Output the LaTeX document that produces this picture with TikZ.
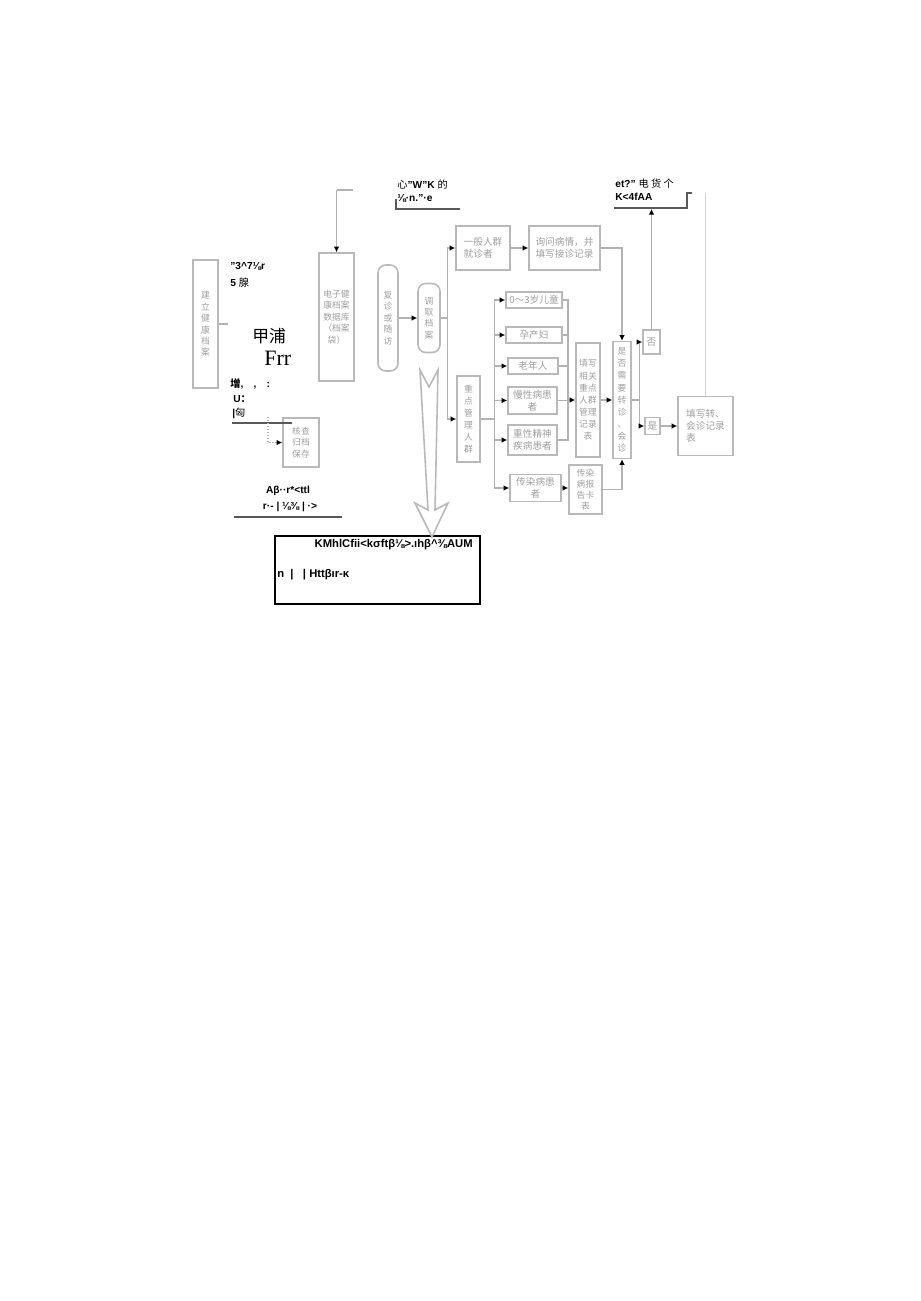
\documentclass[tikz,border=0pt]{standalone}
\usepackage{fontspec}
\setmainfont{Liberation Sans}
\newfontfamily\cjk{Noto Sans CJK SC}
\newfontfamily\tms{Liberation Serif}
\usetikzlibrary{arrows.meta}

\tikzset{
    box/.style={draw=gray!55, line width=0.9pt, inner sep=0pt, align=center,
        text=gray!75, font=\cjk\fontsize{5}{6.5}\selectfont},
    hbox/.style={box, font=\cjk\fontsize{5.5}{7}\selectfont},
    oval/.style={box, rounded corners=4.5pt},
    sz/.style 2 args={minimum width=#1*0.02cm, minimum height=#2*0.02cm},
    link/.style={draw=gray!60, line width=0.7pt},
    flow/.style={link, -{Latex[length=3.2pt, width=3.2pt, color=black]}},
    ocr/.style={font=\bfseries\fontsize{5.8}{7}\selectfont, anchor=west, inner sep=0pt},
    rule/.style={draw=gray!70!black, line width=0.7pt},
}

\begin{document}
\begin{tikzpicture}[
        x=0.02cm,   % 1 unit = 1 px of the page
        y=-0.02cm,  % y runs downwards, as in the scan
    ]

    \useasboundingbox (0,0) rectangle (920,1301);

    % Left column
    \node[box, sz={25}{128}] (jianli) at (205.5,324) {建\\立\\健\\康\\档\\案};
    \node[box, sz={35}{128}] (dianzi) at (336.5,317) {电子健\\康档案\\数据库\\（档案\\袋）};
    \node[box, sz={36}{49}] (hecha) at (301,442.5) {核查\\归档\\保存};

    % Garbled scan text (left)
    \node[ocr] (t1) at (230,266) {"3\textasciicircum7⅛r};
    \node[ocr] (t2) at (230,283) {5 {\cjk\mdseries 腺}};
    \node[font=\cjk\fontsize{9.6}{10}\selectfont, anchor=west, inner sep=0pt] (t3) at (252,336) {甲浦};
    \node[font=\tms\fontsize{12.5}{13}\selectfont, anchor=west, inner sep=0pt] (t4) at (264,358) {Frr};
    \node[ocr] (t5) at (230,384) {{\cjk 增},\quad,\quad:};
    \node[ocr] (t6) at (233,399) {U{\cjk ：}};
    \node[ocr] (t7) at (232,413) {|{\cjk\mdseries 匈}};
    \node[ocr, anchor=center] (t8) at (288,491) {Aβ··r*<ttl};
    \node[ocr, anchor=center] (t9) at (290,507) {r·-\ |\ ⅛⅜\ |\ ·>};

    % Garbled scan text (top)
    \node[ocr] (t10) at (397,185) {{\cjk\mdseries 心}"W"K {\cjk\mdseries 的}};
    \node[ocr] (t11) at (397,198) {⅛·n."·e};
    \node[ocr] (t12) at (615,184) {et?" {\cjk\mdseries 电 货 个}};
    \node[ocr] (t13) at (615,197) {K<4fAA};

    % Rules under the garbled text
    \draw[rule] (232,423) -- (292,423);
    \draw[rule] (234,517) -- (342,517);
    \draw[rule] (396,199) -- (396,209) -- (460,209);
    \draw[rule] (614,208) -- (687,208) -- (687,193) -- (692,193);

    % Visit flow
    \node[oval, sz={20}{106}] (fuzhen) at (388,318) {复\\诊\\或\\随\\访};
    \node[oval, sz={22}{69}] (diaoqu) at (429,318) {调\\取\\档\\案};

    \node[hbox, sz={54}{44}, align=left] (yiban) at (483,248) {一般人群\\就诊者};
    \node[hbox, sz={71}{44}] (xunwen) at (564.5,248) {询问病情，并\\填写接诊记录};

    \node[box, sz={23}{86}, font=\cjk\fontsize{5}{6.9}\selectfont] (zhongdian) at (468.5,419) {重\\点\\管\\理\\人\\群};

    % Key groups
    \node[hbox, sz={56}{16}] (child) at (534,300) {0～3岁儿童};
    \node[hbox, sz={56}{16}] (yun) at (534,335) {孕产妇};
    \node[hbox, sz={50}{16}] (lao) at (533,366) {老年人};
    \node[hbox, sz={49}{27}] (man) at (532.5,400.5) {慢性病患\\者};
    \node[hbox, sz={49}{30}] (jing) at (532.5,440) {重性精神\\疾病患者};
    \node[hbox, sz={51}{27}] (chuan) at (535.5,488) {传染病患\\者};

    \node[box, sz={24}{114}, font=\cjk\fontsize{5}{6.9}\selectfont] (tianxie) at (588,400) {填写\\相关\\重点\\人群\\管理\\记录\\表};
    \node[box, sz={33}{49}, font=\cjk\fontsize{5}{6.2}\selectfont] (baogao) at (585.5,489.5) {传染\\病报\\告卡\\表};

    % Referral decision
    \node[box, sz={18}{117}, font=\cjk\fontsize{5}{6.9}\selectfont] (shifou) at (622,400) {是\\否\\需\\要\\转\\诊\\、\\会\\诊};
    \node[hbox, sz={17}{24}] (fou) at (651.5,342) {否};
    \node[hbox, sz={15}{17}] (shi) at (652.5,426) {是};
    \node[hbox, sz={55}{59}, align=left] (zhuan) at (705.5,426) {填写转、\\会诊记录\\表};

    % Bottom box
    \node[draw=black, line width=0.6pt, sz={205}{68}, inner sep=0pt] (bottom) at (377.5,570) {};
    \node[ocr, anchor=east, font=\bfseries\fontsize{6.4}{7.5}\selectfont] (t14) at (473,545) {KMhlCfii<kσftβ⅛>.ıhβ\textasciicircum⅜AUM};
    \node[ocr, font=\bfseries\fontsize{6.4}{7.5}\selectfont] (t15) at (277,575) {n\ \ |\ \ \ |\ Httβır-κ};

    % Hollow down arrow
    \draw[draw=gray!55, line width=0.9pt, line join=miter]
        (420,370) -- (429,387) -- (438,370) -- (435,510) -- (448,503)
        -- (432,537) -- (415,503) -- (428,510) -- cycle;

    % Connectors
    \coordinate (dztop) at (336.5,190);
    \draw[link] (dztop) -- ++(16,0);
    \draw[flow] (dztop) -- (dianzi.north);
    \draw[link] (jianli.east) -- ++(9,0);
    \coordinate (hctop) at (268,417);
    \draw[flow, densely dotted] (hctop) |- (hecha.west);

    \draw[flow] (fuzhen) -- (diaoqu);
    \draw[flow] (diaoqu.east) -- ++(7,0) |- (yiban.west);
    \draw[flow] (diaoqu.east) -- ++(7,0) |- (zhongdian.west);
    \draw[flow] (yiban) -- (xunwen);
    \draw[flow] (xunwen.east) -| (shifou.north);

    \foreach \grp in {child, yun, lao, man, jing, chuan} {
        \draw[flow] (zhongdian.east) -- ++(14,0) |- (\grp.west);
    }
    \coordinate (merge) at (568,400);
    \foreach \grp in {child, yun, lao, man, jing} {
        \draw[link] (\grp.east) -| (merge);
    }
    \draw[flow] (merge) -- (tianxie.west);
    \draw[flow] (chuan) -- (baogao.west |- chuan);
    \draw[flow] (tianxie) -- (shifou);
    \draw[flow] (baogao.east) -| (shifou.south);

    \draw[flow] (shifou.east) -- ++(8,0) |- (fou.west);
    \draw[flow] (shifou.east) -- ++(8,0) |- (shi.west);
    \draw[flow] (shi) -- (zhuan);
    \coordinate (brk) at (651.5,209);
    \draw[flow] (fou.north) -- (brk);
    \coordinate (ztop) at (705.5,193);
    \draw[link, draw=gray!35] (zhuan.north) -- (ztop);

\end{tikzpicture}
\end{document}
